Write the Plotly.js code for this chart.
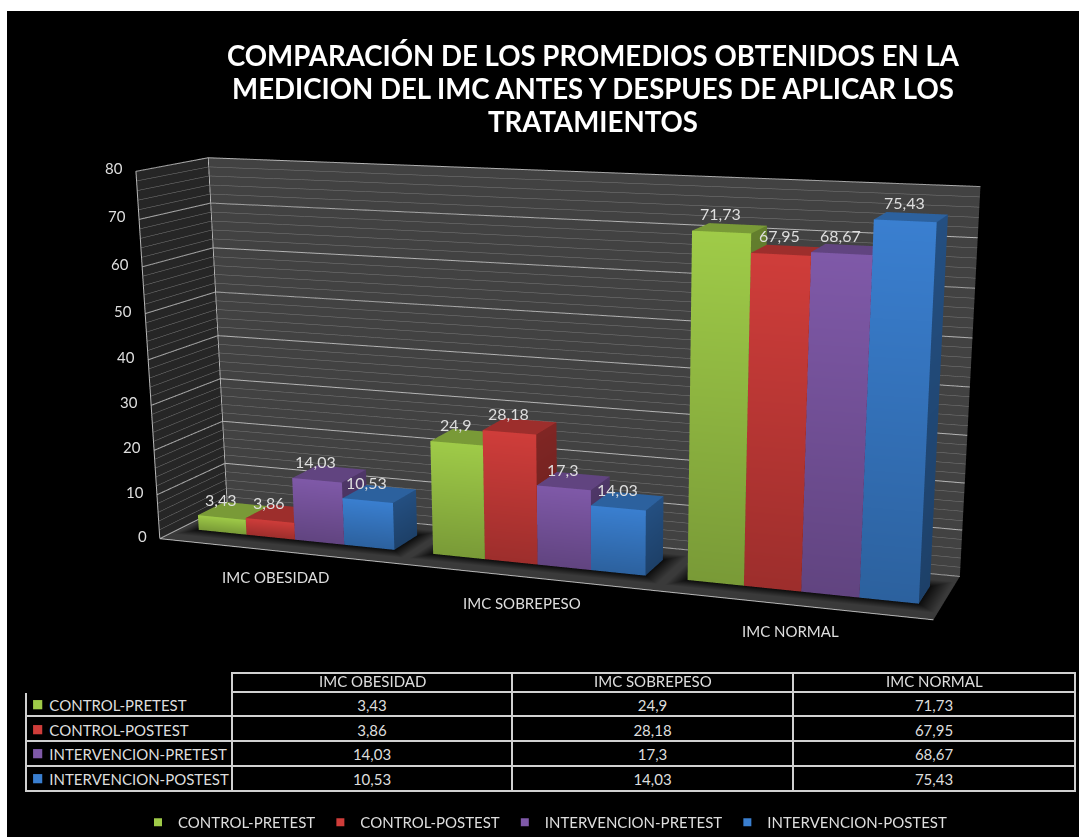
<!DOCTYPE html>
<html>
<head>
<meta charset="utf-8">
<script src="https://cdn.plot.ly/plotly-3.0.1.min.js"></script>
<style>
html,body{margin:0;padding:0;width:1079px;height:837px;overflow:hidden;background:#fff}
#chart{position:absolute;left:0;top:-288px;width:1204px;height:1691px}
</style>
</head>
<body>
<div id="chart"></div>
<script>
const categories = ["IMC OBESIDAD", "IMC SOBREPESO", "IMC NORMAL"];
const seriesNames = ["CONTROL-PRETEST", "CONTROL-POSTEST", "INTERVENCION-PRETEST", "INTERVENCION-POSTEST"];
const controlPre = [3.43, 24.9, 71.73];
const controlPost = [3.86, 28.18, 67.95];
const intervPre = [14.03, 17.3, 68.67];
const intervPost = [10.53, 14.03, 75.43];
const zTicks = [0, 10, 20, 30, 40, 50, 60, 70, 80];
const seriesColors = ["#9fcb48", "#cf3d3a", "#7f59a8", "#3a7fd0"];
const titleLines = ["COMPARACIÓN DE LOS PROMEDIOS OBTENIDOS EN LA", "MEDICION DEL IMC ANTES Y DESPUES DE APLICAR LOS", "TRATAMIENTOS"];
const series = [controlPre, controlPost, intervPre, intervPost];

const FW = 1204, FH = 1691, TOP = 288;
const px = x => x / FW;
const py = y => 1 - (y + TOP) / FH;

function shade(hex, k) {
  const n = parseInt(hex.slice(1), 16);
  const c = [n >> 16, (n >> 8) & 255, n & 255].map(v => Math.round(Math.min(255, v * k)));
  return `rgb(${c[0]},${c[1]},${c[2]})`;
}
const fmt = v => String(v).replace('.', ',');

const barW = 0.21, groupPad = 0.08, y0 = 0.3, y1 = 0.7;
const faceFont = 'Lato, "Open Sans", sans-serif';
const ink = '#dedede';

function barMesh(values, si) {
  const X = [], Y = [], Z = [], I = [], J = [], K = [], C = [];
  const col = seriesColors[si];
  function quad(p, cols) {
    const b = X.length;
    p.forEach((q, n) => { X.push(q[0]); Y.push(q[1]); Z.push(q[2]); C.push(cols[n]); });
    I.push(b, b); J.push(b + 1, b + 2); K.push(b + 2, b + 3);
  }
  values.forEach((v, c) => {
    const a = c + groupPad + si * barW, b = a + barW;
    const lo = shade(col, 0.76), hi = shade(col, 1.0), sLo = shade(col, 0.5), sHi = shade(col, 0.62), tp = shade(col, 0.76);
    quad([[a, y0, 0], [b, y0, 0], [b, y0, v], [a, y0, v]], [lo, lo, hi, hi]);
    quad([[b, y0, 0], [b, y1, 0], [b, y1, v], [b, y0, v]], [sLo, sLo, sHi, sHi]);
    quad([[a, y0, v], [b, y0, v], [b, y1, v], [a, y1, v]], [tp, tp, tp, tp]);
  });
  return {
    type: 'mesh3d', name: seriesNames[si], x: X, y: Y, z: Z, i: I, j: J, k: K, vertexcolor: C,
    flatshading: true, showlegend: false, hoverinfo: 'skip', showscale: false,
    lighting: { ambient: 1, diffuse: 0, specular: 0, roughness: 1, fresnel: 0 }
  };
}

const zMax = zTicks[zTicks.length - 1], nCat = categories.length;
const floorColor = '#3a3a3a';

function floorShadow() {
  const X = [], Y = [], Z = [], I = [], J = [], K = [], C = [];
  const h = 0.03;
  categories.forEach((_, c) => {
    const a = c + groupPad, b = a + 4 * barW, base = X.length;
    const outer = [[a - 0.06, 0.14], [b + 0.07, 0.14], [b + 0.07, 0.86], [a - 0.06, 0.86]];
    const inner = [[a, y0], [b, y0], [b, y1], [a, y1]];
    outer.forEach(q => { X.push(q[0]); Y.push(q[1]); Z.push(h); C.push(floorColor); });
    inner.forEach(q => { X.push(q[0]); Y.push(q[1]); Z.push(h); C.push('#0c0c0c'); });
    for (let n = 0; n < 4; n++) {
      const m = (n + 1) % 4;
      I.push(base + n, base + n); J.push(base + m, base + 4 + m); K.push(base + 4 + m, base + 4 + n);
    }
    I.push(base + 4, base + 4); J.push(base + 5, base + 6); K.push(base + 6, base + 7);
  });
  return { type: 'mesh3d', x: X, y: Y, z: Z, i: I, j: J, k: K, vertexcolor: C, showlegend: false, hoverinfo: 'skip', showscale: false,
    lighting: { ambient: 1, diffuse: 0, specular: 0, roughness: 1, fresnel: 0 } };
}

const majX = [], majY = [], majZ = [];
zTicks.forEach(t => {
  majX.push(0, 0, nCat, null); majY.push(0, 1, 1, null); majZ.push(t, t, t, null);
});
const majorGrid = { type: 'scatter3d', mode: 'lines', x: majX, y: majY, z: majZ, showlegend: false, hoverinfo: 'skip',
  line: { color: '#b4b4b4', width: 2 }, connectgaps: false };
const frame = { type: 'scatter3d', mode: 'lines', showlegend: false, hoverinfo: 'skip', connectgaps: false,
  x: [0, 0, 0, nCat, null, 0, nCat, null, 0, 0],
  y: [0, 0, 1, 1, null, 0, 0, null, 1, 1],
  z: [0, zMax, zMax, zMax, null, 0, 0, null, 0, zMax],
  line: { color: '#b5b5b5', width: 2 } };

const annText = { family: faceFont, size: 15, color: ink };
const sceneAnn = [];
series.forEach((vals, si) => vals.forEach((v, c) => {
  sceneAnn.push({ x: c + groupPad + (si + 0.5) * barW, y: y0, z: v, text: fmt(v), showarrow: false,
    yanchor: 'bottom', yshift: 7, xshift: -1, font: { family: faceFont, size: 16, color: ink } });
}));
zTicks.forEach(t => sceneAnn.push({ x: 0, y: 0, z: t, text: String(t), showarrow: false, xanchor: 'right', xshift: -11, yshift: 3,
  font: annText }));
categories.forEach((name, c) => sceneAnn.push({ x: c + 0.5, y: 0, z: 0, text: name, showarrow: false, yanchor: 'top', yshift: -15,
  font: annText }));

const axisBase = { showticklabels: false, showspikes: false, zeroline: false, showline: false, ticks: '', title: { text: '' } };

const gap = '\u00A0\u00A0\u00A0\u00A0';
const tableTrace = {
  type: 'table',
  domain: { x: [px(26), px(1075)], y: [py(794), py(672.7)] },
  columnwidth: [206, 280, 281, 282],
  header: {
    values: categories.map(() => '').concat(['']), height: 19, align: 'center',
    fill: { color: '#000' }, line: { color: ['#000', '#d0d0d0', '#d0d0d0', '#d0d0d0'], width: 2 },
    font: annText
  },
  cells: {
    values: [seriesNames.map(n => gap + n)].concat(
      categories.map((_, c) => series.map(s => fmt(s[c])))),
    height: 24.75, align: ['left', 'center', 'center', 'center'],
    fill: { color: '#000' }, line: { color: '#d0d0d0', width: 2 },
    font: annText
  }
};

const headerX = [372, 653, 934];
const rowY = [704, 728.5, 753, 778];
const paperAnn = categories.map((name, c) => ({ xref: 'paper', yref: 'paper', x: px(headerX[c]), y: py(681), text: name, showarrow: false,
  xanchor: 'center', yanchor: 'middle', font: annText }));
seriesColors.forEach((col, i) => paperAnn.push({ xref: 'paper', yref: 'paper', x: px(37.5), y: py(rowY[i]), text: '■', showarrow: false,
  xanchor: 'center', yanchor: 'middle', font: { family: 'DejaVu Sans, sans-serif', size: 12, color: col } }));

const legendTraces = seriesNames.map((n, i) => ({ type: 'scatter', mode: 'markers', x: [null], y: [null], name: n, showlegend: true,
  hoverinfo: 'skip', marker: { symbol: 'square', size: 8, color: seriesColors[i] } }));

const layout = {
  width: FW, height: FH, autosize: false, margin: { l: 0, r: 0, t: 0, b: 0, pad: 0 },
  paper_bgcolor: '#ffffff',
  title: {
    text: titleLines.map(l => `<span style="font-size:27.6px">${l}</span>`).join('<br>'),
    x: px(593), xanchor: 'center', y: py(66), yanchor: 'top', yref: 'paper',
    font: { family: faceFont, size: 25.4, color: '#ffffff', weight: 700 }
  },
  shapes: [{ type: 'rect', xref: 'paper', yref: 'paper', x0: px(7), x1: px(1085), y0: py(11), y1: py(845),
    fillcolor: '#000', line: { width: 0 }, layer: 'below' }],
  annotations: paperAnn,
  showlegend: true,
  xaxis: { visible: false, domain: [0, 0.001], fixedrange: true },
  yaxis: { visible: false, domain: [0, 0.001], fixedrange: true },
  legend: { orientation: 'h', x: px(545), xanchor: 'center', y: py(806), yanchor: 'top',
    bgcolor: 'rgba(0,0,0,0)', font: { family: faceFont, size: 15, color: ink } },
  scene: {
    domain: { x: [0, 1], y: [0, 1] },
    bgcolor: 'rgba(0,0,0,0)',
    aspectmode: 'manual', aspectratio: { x: 1, y: 0.175, z: 0.467 },
    camera: {
      projection: { type: 'perspective' },
      eye: { x: 0.8681, y: -2.2815, z: 0.4989 },
      center: { x: 0.0793, y: -0.0207, z: -0.2204 },
      up: { x: 0, y: 0, z: 1 }
    },
    xaxis: Object.assign({}, axisBase, { range: [0, nCat], showgrid: false, showbackground: true, backgroundcolor: '#262626', autorange: false }),
    yaxis: Object.assign({}, axisBase, { range: [0, 1], showgrid: false, showbackground: true, backgroundcolor: '#424242', autorange: false }),
    zaxis: Object.assign({}, axisBase, { range: [0, zMax], dtick: 2, showgrid: true, gridcolor: '#7a7a7a', gridwidth: 1,
      showbackground: true, backgroundcolor: floorColor, autorange: false }),
    annotations: sceneAnn
  }
};

const traces = [floorShadow()].concat(series.map(barMesh), [majorGrid, frame, tableTrace], legendTraces);
Plotly.newPlot('chart', traces, layout, { displayModeBar: false });
</script>
</body>
</html>
